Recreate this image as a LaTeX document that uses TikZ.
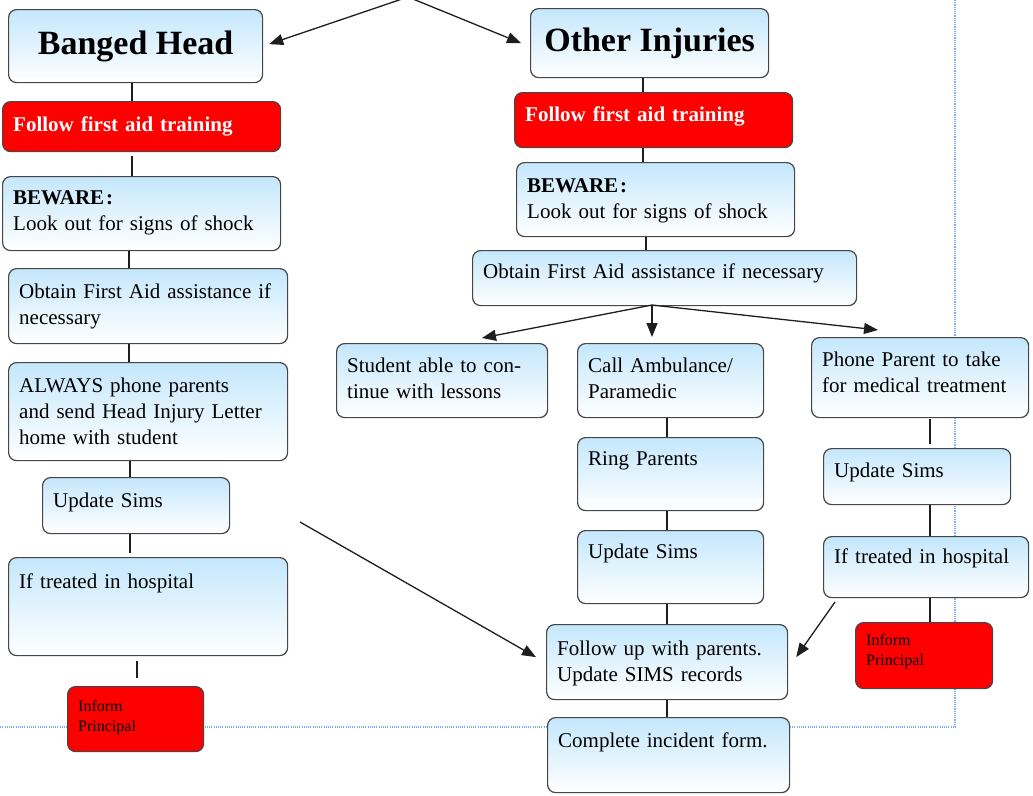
\documentclass[tikz,border=0pt]{standalone}
\usepackage{fontspec}
\setmainfont{Liberation Serif}
\usetikzlibrary{arrows.meta,calc}
\definecolor{boxtop}{RGB}{196,231,252}
\definecolor{edge}{RGB}{70,70,70}
\definecolor{wire}{RGB}{30,30,30}
\definecolor{guide}{RGB}{120,175,250}
\definecolor{alarm}{RGB}{255,0,0}
\tikzset{
  boxbase/.style={draw=edge, line width=1.2pt, rounded corners=8pt, inner sep=0pt, anchor=north west},
  bluebox/.style={boxbase, top color=boxtop, bottom color=white},
  redbox/.style={boxbase, fill=alarm},
  titlebox/.style={bluebox, font=\bfseries\fontsize{34}{40}\selectfont},
  bodytxt/.style={anchor=base west, inner sep=0pt, align=left, text width=400pt, font=\fontsize{21}{26}\selectfont},
  redtxt/.style={bodytxt, text=white, font=\bfseries\fontsize{21}{26}\selectfont},
  smalltxt/.style={bodytxt, font=\fontsize{16}{20}\selectfont},
  wireline/.style={draw=wire, line width=1.3pt},
  arr/.style={wireline, -{Triangle[length=14pt,width=11pt]}},
  guideline/.style={draw=guide, line width=1.1pt, dash pattern=on 1.1pt off 1.1pt},
}
% #1 box style, #2 text style, #3 name, #4 x1, #5 y1, #6 x2, #7 y2, #8 text, #9 baseline offset
\newcommand\tbox[9]{%
  \node[#1, minimum width={#6-#4}, minimum height={#7-#5}] (#3) at (#4,#5) {};
  \node[#2] (#3-t) at ($(#3.north west)+(11,#9)$) {#8};}
\begin{document}
\begin{tikzpicture}[x=1pt,y=-1pt]
\useasboundingbox (0,0) rectangle (1033,795);
\clip (0,0) rectangle (1033,795);
% guide lines
\draw[guideline] (955,0) -- (955,727) -- (0,727);
% column coordinates
\coordinate (cA) at (132,0);
\coordinate (cB) at (129,0);
\coordinate (cC) at (130,0);
\coordinate (cD) at (137,0);
\coordinate (cE) at (643,0);
\coordinate (cF) at (646,0);
\coordinate (cG) at (667,0);
\coordinate (cH) at (930,0);
% titles
\node[titlebox, minimum width=254, minimum height=73] (bh) at (8,9) {Banged Head};
\node[titlebox, minimum width=238, minimum height=69] (oi) at (530,8) {Other Injuries};
% left column
\tbox{redbox}{redtxt}{r1}{2}{101}{280}{151}{Follow first aid training}{30}
\tbox{bluebox}{bodytxt}{bw1}{2}{176}{280}{250}{\textbf{BEWARE\kern2pt:}\\Look out for signs of shock}{28}
\tbox{bluebox}{bodytxt}{ob1}{8}{268}{287}{343}{Obtain First Aid assistance if\\necessary}{30}
\tbox{bluebox}{bodytxt}{al}{8}{362}{287}{460}{ALWAYS phone parents\\and send Head Injury Letter\\home with student}{30}
\tbox{bluebox}{bodytxt}{us1}{42}{477}{229}{533}{Update Sims}{30}
\tbox{bluebox}{bodytxt}{it1}{8}{557}{287}{655}{If treated in hospital}{31}
\tbox{redbox}{smalltxt}{ip1}{67}{686}{203}{751}{Inform\\Principal}{25}
% right column
\tbox{redbox}{redtxt}{r2}{514}{92}{792}{147}{Follow first aid training}{29}
\tbox{bluebox}{bodytxt}{bw2}{516}{162}{794}{236}{\textbf{BEWARE\kern2pt:}\\Look out for signs of shock}{30}
\tbox{bluebox}{bodytxt}{ob2}{472}{250}{856}{305}{Obtain First Aid assistance if necessary}{28}
\tbox{bluebox}{bodytxt}{st}{336}{343}{547}{417}{Student able to con-\\tinue with lessons}{29}
\tbox{bluebox}{bodytxt}{ca}{577}{343}{763}{417}{Call Ambulance/\\Paramedic}{29}
\tbox{bluebox}{bodytxt}{pp}{811}{337}{1028}{417}{Phone Parent to take\\for medical treatment}{29}
\tbox{bluebox}{bodytxt}{rp}{577}{437}{763}{510}{Ring Parents}{28}
\tbox{bluebox}{bodytxt}{us2}{577}{530}{763}{603}{Update Sims}{28}
\tbox{bluebox}{bodytxt}{us3}{823}{448}{1010}{504}{Update Sims}{29}
\tbox{bluebox}{bodytxt}{it3}{823}{536}{1028}{597}{If treated in hospital}{27}
\tbox{redbox}{smalltxt}{ip3}{855}{622}{992}{688}{Inform\\Principal}{23}
\tbox{bluebox}{bodytxt}{fu}{546}{624}{787}{699}{Follow up with parents.\\Update SIMS records}{31}
\tbox{bluebox}{bodytxt}{ci}{547}{717}{789}{792}{Complete incident form.}{30}
% left connectors
\draw[wireline] (bh.south -| cA) -- (r1.north -| cA);
\draw[wireline] ([yshift=-4pt]r1.south -| cA) -- (bw1.north -| cA);
\draw[wireline] (bw1.south -| cB) -- (ob1.north -| cB);
\draw[wireline] (ob1.south -| cB) -- (al.north -| cB);
\draw[wireline] (al.south -| cC) -- (us1.north -| cC);
\draw[wireline] (us1.south -| cC) -- ([yshift=4pt]it1.north -| cC);
\draw[wireline] ([yshift=-5pt]it1.south -| cD) -- ([yshift=8pt]ip1.north -| cD);
% right connectors
\draw[wireline] (oi.south -| cE) -- (r2.north -| cE);
\draw[wireline] (r2.south -| cE) -- (bw2.north -| cE);
\draw[wireline] (bw2.south -| cF) -- (ob2.north -| cF);
\draw[wireline] (ca.south -| cG) -- (rp.north -| cG);
\draw[wireline] (rp.south -| cG) -- (us2.north -| cG);
\draw[wireline] (us2.south -| cG) -- (fu.north -| cG);
\draw[wireline] (fu.south -| cG) -- (ci.north -| cG);
\draw[wireline] ([yshift=-1pt]pp.south -| cH) -- ([yshift=4pt]us3.north -| cH);
\draw[wireline] (us3.south -| cH) -- (it3.north -| cH);
\draw[wireline] (it3.south -| cH) -- (ip3.north -| cH);
% arrows
\coordinate (src) at (408,-3);
\draw[arr] (src) -- ([xshift=6pt,yshift=2pt]bh.east);
\draw[arr] (src) -- ([xshift=-9pt]oi.west);
\coordinate (fork) at (652,305);
\coordinate (stp) at (482,0);
\coordinate (ppp) at (878,0);
\draw[arr] (fork) -- ([yshift=5pt]st.north -| stp);
\draw[arr] (fork) -- ([yshift=6pt]ca.north -| fork);
\draw[arr] (fork) -- ([yshift=7pt]pp.north -| ppp);
\coordinate (d1) at (300,522);
\draw[arr] (d1) -- ([xshift=-10pt,yshift=5pt]fu.west);
\coordinate (d2) at (835,602);
\draw[arr] (d2) -- ([xshift=8pt,yshift=5pt]fu.east);
\end{tikzpicture}
\end{document}
